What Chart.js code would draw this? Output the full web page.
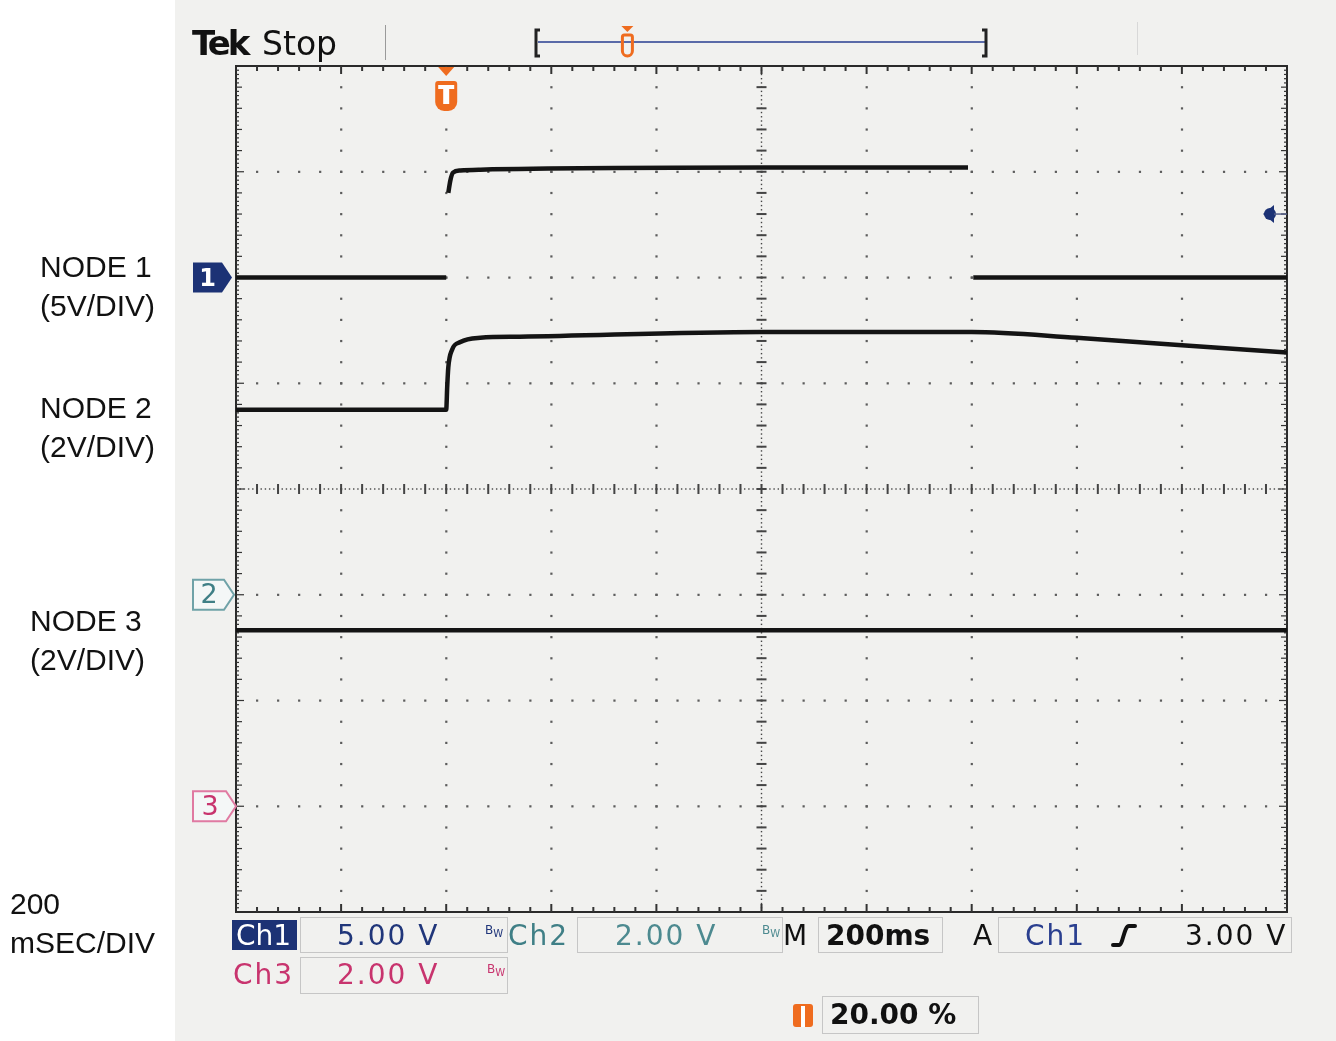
<!DOCTYPE html>
<html>
<head>
<meta charset="utf-8">
<script src="https://cdn.jsdelivr.net/npm/chart.js@4"></script>
<style>
  body { margin: 0; background: #fff; }
  #wrap { position: relative; width: 1336px; height: 1041px; overflow: hidden; }
  #screen { position: absolute; left: 175px; top: 0; width: 1161px; height: 1041px; background: #f1f1ef; }
  #scope { position: absolute; left: 0; top: 0; }
  .t { position: absolute; white-space: nowrap; line-height: 1; }
  .lbl { position: absolute; font-family: "Liberation Sans", Arial, sans-serif; font-size: 30px; line-height: 39px; color: #111; }
  .ro { font-family: "DejaVu Sans", sans-serif; font-size: 28px; letter-spacing: 2px; }
  .bw { font-family: "DejaVu Sans", sans-serif; font-size: 12px; }
  .bw sub { font-size: 10px; vertical-align: -3px; }
</style>
</head>
<body>
<div id="wrap">
  <div id="screen"></div>
  <canvas id="scope" width="1336" height="1041"></canvas>

  <!-- side labels -->
  <div class="lbl" style="left:40px; top:247px;">NODE 1<br>(5V/DIV)</div>
  <div class="lbl" style="left:40px; top:388px;">NODE 2<br>(2V/DIV)</div>
  <div class="lbl" style="left:30px; top:601px;">NODE 3<br>(2V/DIV)</div>
  <div class="lbl" style="left:10px; top:884px;">200<br>mSEC/DIV</div>

  <!-- header -->
  <div class="t" style="left:192px; top:26px; font-family:'DejaVu Sans',sans-serif; font-weight:bold; font-size:34px; letter-spacing:-3px; color:#111;">Tek</div>
  <div class="t" style="left:262px; top:27px; font-family:'DejaVu Sans',sans-serif; font-size:33px; color:#111;">Stop</div>

  <!-- channel marker digits -->
  <div class="t" style="left:193px; top:266px; width:29px; text-align:center; font-family:'DejaVu Sans',sans-serif; font-weight:bold; font-size:24px; color:#fff;">1</div>
  <div class="t" style="left:194px; top:580px; width:30px; text-align:center; font-family:'DejaVu Sans',sans-serif; font-size:27px; color:#3f7f86;">2</div>
  <div class="t" style="left:194px; top:792px; width:32px; text-align:center; font-family:'DejaVu Sans',sans-serif; font-size:27px; color:#c8346e;">3</div>

  <!-- readouts row 1 -->
  <div class="t ro" style="left:236px; top:922px; color:#fff; letter-spacing:0;">Ch1</div>
  <div class="t ro" style="left:337px; top:922px; color:#20367a;">5.00 V</div>
  <div class="t bw" style="left:485px; top:924px; color:#20367a;">B<sub>W</sub></div>
  <div class="t ro" style="left:508px; top:922px; color:#3f7f86;">Ch2</div>
  <div class="t ro" style="left:615px; top:922px; color:#4d8a90;">2.00 V</div>
  <div class="t bw" style="left:762px; top:924px; color:#4d8a90;">B<sub>W</sub></div>
  <div class="t ro" style="left:783px; top:922px; color:#111; letter-spacing:0;">M</div>
  <div class="t ro" style="left:826px; top:922px; color:#111; font-weight:bold; letter-spacing:0;">200ms</div>
  <div class="t ro" style="left:973px; top:922px; color:#111; letter-spacing:0;">A</div>
  <div class="t ro" style="left:1025px; top:922px; color:#2a3f8f;">Ch1</div>
  <div class="t ro" style="left:1185px; top:922px; color:#111;">3.00 V</div>

  <!-- readouts row 2 -->
  <div class="t ro" style="left:233px; top:961px; color:#c8346e;">Ch3</div>
  <div class="t ro" style="left:337px; top:961px; color:#c8346e;">2.00 V</div>
  <div class="t bw" style="left:487px; top:963px; color:#c8346e;">B<sub>W</sub></div>

  <!-- readouts row 3 -->
  <div class="t ro" style="left:830px; top:1001px; color:#111; font-weight:bold; letter-spacing:0;">20.00 %</div>
</div>

<script>
// time base and channel settings
const msPerDiv = 200;
const timeStart = -400;
const timeEnd = 1600;
const voltsPerDiv = [5, 2, 2];
const groundDiv = [2, -1, -3];
const triggerLevelV = 3.0;

// NODE 1 (Ch1)
const node1TimeMs = [-400, 0, 2, 4, 8, 13, 27, 65, 600, 993, 998, 1003, 1600];
const node1Volts  = [0, 0, null, 4.0, 4.6, 4.96, 5.06, 5.1, 5.2, 5.2, null, 0, 0];

// NODE 2 (Ch2)
const node2TimeMs = [-400, 0, 2, 4, 11, 27, 65, 140, 600, 1000, 1200, 1400, 1600];
const node2Volts  = [3.5, 3.5, 3.95, 4.3, 4.63, 4.78, 4.86, 4.88, 4.97, 4.97, 4.86, 4.72, 4.58];

// NODE 3 (Ch3)
const node3TimeMs = [-400, 1600];
const node3Volts  = [3.33, 3.33];

function toDiv(times, volts, ch) {
  return times.map((t, i) => ({
    x: t,
    y: volts[i] === null ? null : groundDiv[ch] + volts[i] / voltsPerDiv[ch]
  }));
}

const ORANGE = '#ef6c1f';
const NAVY = '#1c3275';

const scopePlugin = {
  id: 'scope',
  beforeDatasetsDraw(chart) {
    const { ctx, chartArea: a, scales: { x, y } } = chart;
    const gx = [], gy = [];
    for (let i = 0; i <= 10; i++) gx.push(x.getPixelForValue(timeStart + i * msPerDiv));
    for (let j = 4; j >= -4; j--) gy.push(y.getPixelForValue(j));
    const sx = (gx[1] - gx[0]) / 5, sy = (gy[1] - gy[0]) / 5;
    ctx.save();
    // dotted graticule
    ctx.fillStyle = '#5c5c5c';
    for (let i = 1; i < 10; i++) {
      if (i === 5) continue;
      for (let k = 1; k < 40; k++) ctx.fillRect(gx[i] - 1, a.top + k * sy - 1, 2.2, 2.2);
    }
    for (let j = 1; j < 8; j++) {
      if (j === 4) continue;
      for (let k = 1; k < 50; k++) ctx.fillRect(a.left + k * sx - 1, gy[j] - 1, 2.2, 2.2);
    }
    // centre axes with minor ticks
    const cx = gx[5], cy = gy[4];
    ctx.fillStyle = '#444';
    for (let k = 0; k <= 200; k++) ctx.fillRect(cx - 0.7, a.top + k * sy / 5 - 0.7, 1.4, 1.4);
    for (let k = 0; k <= 250; k++) ctx.fillRect(a.left + k * sx / 5 - 0.7, cy - 0.7, 1.4, 1.4);
    for (let k = 1; k < 40; k++) ctx.fillRect(cx - 5, a.top + k * sy - 1, 10, 2);
    for (let k = 1; k < 50; k++) ctx.fillRect(a.left + k * sx - 1, cy - 5, 2, 10);
    // frame
    ctx.strokeStyle = '#2a2a2a';
    ctx.lineWidth = 2;
    ctx.strokeRect(a.left, a.top, a.right - a.left, a.bottom - a.top);
    ctx.fillStyle = '#333';
    for (let k = 1; k < 50; k++) {
      const px = a.left + k * sx;
      const len = k % 5 === 0 ? 8 : 5;
      ctx.fillRect(px - 1, a.top, 2, len);
      ctx.fillRect(px - 1, a.bottom - len, 2, len);
    }
    for (let k = 1; k < 200; k++) {
      const py = a.top + k * sy / 5;
      const len = k % 25 === 0 ? 8 : (k % 5 === 0 ? 6 : 3);
      ctx.fillRect(a.left, py - 0.6, len, 1.2);
      ctx.fillRect(a.right - len, py - 0.6, len, 1.2);
    }
    ctx.restore();
  },
  afterDatasetsDraw(chart) {
    const { ctx, chartArea: a, scales: { x, y } } = chart;
    ctx.save();
    // trigger position marker
    const tx = x.getPixelForValue(0);
    ctx.fillStyle = ORANGE;
    ctx.beginPath();
    ctx.moveTo(tx - 8, a.top + 1); ctx.lineTo(tx + 8, a.top + 1); ctx.lineTo(tx, a.top + 10);
    ctx.fill();
    ctx.beginPath();
    ctx.roundRect(tx - 11, a.top + 15, 22, 30, [3, 3, 9, 9]);
    ctx.fill();
    ctx.fillStyle = '#fff';
    ctx.fillRect(tx - 8, a.top + 19, 16, 4);
    ctx.fillRect(tx - 3, a.top + 23, 6, 15);

    // channel ground markers
    const g1 = y.getPixelForValue(groundDiv[0]);
    ctx.fillStyle = NAVY;
    ctx.beginPath();
    ctx.moveTo(193, g1 - 15); ctx.lineTo(222, g1 - 15); ctx.lineTo(232, g1);
    ctx.lineTo(222, g1 + 15); ctx.lineTo(193, g1 + 15); ctx.closePath();
    ctx.fill();
    const drawOutlined = (gy, color, w) => {
      ctx.strokeStyle = color; ctx.lineWidth = 2;
      ctx.fillStyle = '#f4f7f7';
      ctx.beginPath();
      ctx.moveTo(193, gy - 15); ctx.lineTo(193 + w, gy - 15); ctx.lineTo(201 + w + 2, gy);
      ctx.lineTo(193 + w, gy + 15); ctx.lineTo(193, gy + 15); ctx.closePath();
      ctx.fill(); ctx.stroke();
    };
    drawOutlined(y.getPixelForValue(groundDiv[1]), '#6fa2a8', 31);
    drawOutlined(y.getPixelForValue(groundDiv[2]), '#e07aa2', 33);

    // trigger level marker
    const ty = y.getPixelForValue(groundDiv[0] + triggerLevelV / voltsPerDiv[0]);
    ctx.fillStyle = NAVY;
    ctx.beginPath();
    ctx.moveTo(1263, ty); ctx.lineTo(1274, ty - 9); ctx.lineTo(1274, ty + 9); ctx.closePath();
    ctx.fill();
    ctx.beginPath(); ctx.arc(1270, ty, 6, 0, Math.PI * 2); ctx.fill();
    ctx.strokeStyle = '#55608a'; ctx.lineWidth = 1.5;
    ctx.beginPath(); ctx.moveTo(1274, ty); ctx.lineTo(a.right, ty); ctx.stroke();

    // record view bar
    ctx.strokeStyle = '#5a6aa8'; ctx.lineWidth = 2;
    ctx.beginPath(); ctx.moveTo(538, 42); ctx.lineTo(985, 42); ctx.stroke();
    ctx.strokeStyle = '#222'; ctx.lineWidth = 3;
    ctx.beginPath();
    ctx.moveTo(540, 30); ctx.lineTo(536, 30); ctx.lineTo(536, 56); ctx.lineTo(540, 56);
    ctx.moveTo(982, 30); ctx.lineTo(986, 30); ctx.lineTo(986, 56); ctx.lineTo(982, 56);
    ctx.stroke();
    const rx = 538 + 0.2 * (985 - 538);
    ctx.fillStyle = ORANGE;
    ctx.beginPath(); ctx.moveTo(rx - 6, 26); ctx.lineTo(rx + 6, 26); ctx.lineTo(rx, 32); ctx.fill();
    ctx.strokeStyle = ORANGE; ctx.lineWidth = 3;
    ctx.beginPath(); ctx.roundRect(rx - 5, 35, 10, 21, [2, 2, 5, 5]); ctx.stroke();
    ctx.strokeStyle = '#9a9a9a'; ctx.lineWidth = 1;
    ctx.beginPath(); ctx.moveTo(385.5, 25); ctx.lineTo(385.5, 60); ctx.stroke();
    ctx.strokeStyle = '#d8d8d8';
    ctx.beginPath(); ctx.moveTo(1137.5, 22); ctx.lineTo(1137.5, 55); ctx.stroke();

    // readout boxes
    ctx.fillStyle = NAVY;
    ctx.fillRect(232, 920, 65, 30);
    ctx.strokeStyle = '#c6c6c6'; ctx.lineWidth = 1;
    [[300, 917, 207, 35], [577, 917, 205, 35], [818, 917, 124, 35], [998, 917, 293, 35],
     [300, 957, 207, 36], [822, 996, 156, 37]].forEach(([bx, by, bw, bh]) => {
      ctx.strokeRect(bx + 0.5, by + 0.5, bw, bh);
    });
    // trigger slope symbol
    ctx.strokeStyle = '#111'; ctx.lineWidth = 4; ctx.lineCap = 'round';
    ctx.beginPath();
    ctx.moveTo(1113, 945); ctx.lineTo(1119, 945);
    ctx.bezierCurveTo(1123, 945, 1124, 926, 1129, 926);
    ctx.lineTo(1135, 926);
    ctx.stroke();
    // trigger position readout marker
    ctx.fillStyle = ORANGE;
    ctx.beginPath(); ctx.roundRect(793, 1004, 20, 23, 3); ctx.fill();
    ctx.fillStyle = '#fff';
    ctx.fillRect(801, 1006, 4, 21);
    ctx.restore();
  }
};

const traceStyle = {
  borderColor: '#141414',
  borderWidth: 4.5,
  pointRadius: 0,
  cubicInterpolationMode: 'monotone',
  spanGaps: false,
  fill: false
};

new Chart(document.getElementById('scope').getContext('2d'), {
  type: 'line',
  data: {
    datasets: [
      Object.assign({ label: 'NODE 1', data: toDiv(node1TimeMs, node1Volts, 0) }, traceStyle),
      Object.assign({ label: 'NODE 2', data: toDiv(node2TimeMs, node2Volts, 1) }, traceStyle),
      Object.assign({ label: 'NODE 3', data: toDiv(node3TimeMs, node3Volts, 2) }, traceStyle)
    ]
  },
  options: {
    responsive: false,
    animation: false,
    events: [],
    layout: { padding: { left: 236, top: 66, right: 49, bottom: 129 } },
    scales: {
      x: { type: 'linear', min: timeStart, max: timeEnd, display: false },
      y: { min: -4, max: 4, display: false }
    },
    plugins: { legend: { display: false }, tooltip: { enabled: false } }
  },
  plugins: [scopePlugin]
});
</script>
</body>
</html>
